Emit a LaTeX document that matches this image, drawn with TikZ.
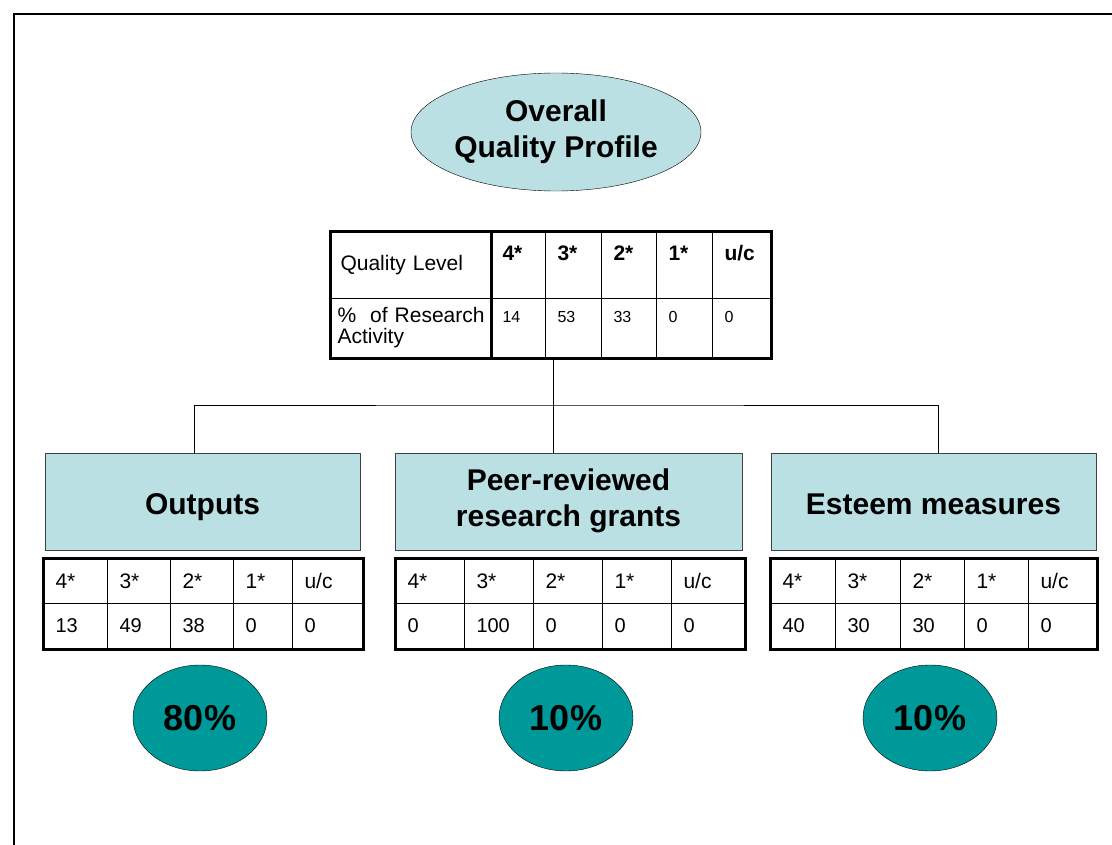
\documentclass[tikz,border=0pt]{standalone}
\usepackage{fontspec}
\setmainfont{Liberation Sans}
\usetikzlibrary{shapes.geometric}
\definecolor{paleblue}{HTML}{BBE0E3}
\definecolor{tealfill}{HTML}{009999}
\begin{document}
\begin{tikzpicture}[x=1pt, y=-1pt]
    % Define styles
    \tikzstyle{title} = [ellipse, draw, fill=paleblue, inner sep=0, minimum width=290, minimum height=118, align=center, font=\fontsize{30}{36}\selectfont\bfseries]
    \tikzstyle{part} = [rectangle, draw=black!75, fill=paleblue, minimum height=97, align=center, font=\fontsize{30}{36}\selectfont\bfseries, execute at begin node={\rule[-7pt]{0pt}{39pt}}]
    \tikzstyle{weight} = [ellipse, draw, fill=tealfill, minimum width=134, minimum height=106, font=\fontsize{36}{40}\selectfont\bfseries]
    \tikzstyle{frame} = [line width=3]
    \tikzset{
        cell/.style={rectangle, draw, line width=1, anchor=north west, minimum width=#1, text width=#1-24, inner xsep=12, inner ysep=0, minimum height=45, align=left, font=\fontsize{21}{24}\selectfont},
        num/.style={font=\fontsize{20}{23}\selectfont},
        head/.style={cell=#1, minimum height=66, font=\fontsize{21}{24}\selectfont\bfseries, text height=15, text depth=25},
        val/.style={cell=#1, minimum height=59, font=\fontsize{16}{19}\selectfont, text height=12, text depth=23}
    }
    \useasboundingbox (0,0) rectangle (1112,845);

    % Page frame
    \draw[line width=2] (1112,14) -- (14,14) -- (14,845);

    % Overall profile
    \node[title] (overall) at (556,132) {Overall\\Quality Profile};

    % Overall table
    \node[cell=160, minimum height=66, inner xsep=10, text width=140] (qlevel) at (330,232) {Quality Level};
    \node[head=55] (h4) at (490,232) {4*};
    \node[head=56] (h3) at (545,232) {3*};
    \node[head=55] (h2) at (601,232) {2*};
    \node[head=56] (h1) at (656,232) {1*};
    \node[head=58] (huc) at (712,232) {u/c};
    \node[cell=160, minimum height=59, inner xsep=7, text width=146, font=\fontsize{21}{21}\selectfont] (share) at (330,298) {\mbox{\%\ \ of Research}\\Activity};
    \node[val=55] (v4) at (490,298) {14};
    \node[val=56] (v3) at (545,298) {53};
    \node[val=55] (v2) at (601,298) {33};
    \node[val=56] (v1) at (656,298) {0};
    \node[val=58] (vuc) at (712,298) {0};
    \draw[frame] (qlevel.north west) rectangle (vuc.south east);
    \draw[frame] (qlevel.north east) -- (share.south east);

    % Sub-profiles
    \node[part, minimum width=315] (outputs) at (202.5,501.5) {Outputs};
    \node[part, minimum width=347] (grants) at (568.5,501.5) {Peer-reviewed\\research grants};
    \node[part, minimum width=325] (esteem) at (933.5,501.5) {Esteem measures};

    % Outputs table
    \node[cell=64] (o4) at (43,558) {4*};
    \node[cell=63] (o3) at (107,558) {3*};
    \node[cell=63] (o2) at (170,558) {2*};
    \node[cell=59] (o1) at (233,558) {1*};
    \node[cell=70] (ouc) at (292,558) {u/c};
    \node[cell=64, num] (o4v) at (43,603) {13};
    \node[cell=63, num] (o3v) at (107,603) {49};
    \node[cell=63, num] (o2v) at (170,603) {38};
    \node[cell=59, num] (o1v) at (233,603) {0};
    \node[cell=70, num] (oucv) at (292,603) {0};
    \draw[frame] (o4.north west) rectangle (oucv.south east);

    % Grants table
    \node[cell=69] (g4) at (395,558) {4*};
    \node[cell=69] (g3) at (464,558) {3*};
    \node[cell=69] (g2) at (533,558) {2*};
    \node[cell=69] (g1) at (602,558) {1*};
    \node[cell=73] (guc) at (671,558) {u/c};
    \node[cell=69, num] (g4v) at (395,603) {0};
    \node[cell=69, num] (g3v) at (464,603) {100};
    \node[cell=69, num] (g2v) at (533,603) {0};
    \node[cell=69, num] (g1v) at (602,603) {0};
    \node[cell=73, num] (gucv) at (671,603) {0};
    \draw[frame] (g4.north west) rectangle (gucv.south east);

    % Esteem table
    \node[cell=65] (e4) at (770,558) {4*};
    \node[cell=65] (e3) at (835,558) {3*};
    \node[cell=64] (e2) at (900,558) {2*};
    \node[cell=64] (e1) at (964,558) {1*};
    \node[cell=68] (euc) at (1028,558) {u/c};
    \node[cell=65, num] (e4v) at (770,603) {40};
    \node[cell=65, num] (e3v) at (835,603) {30};
    \node[cell=64, num] (e2v) at (900,603) {30};
    \node[cell=64, num] (e1v) at (964,603) {0};
    \node[cell=68, num] (eucv) at (1028,603) {0};
    \draw[frame] (e4.north west) rectangle (eucv.south east);

    % Weights
    \node[weight] (wout) at (200,718) {80\%};
    \node[weight] (wgrant) at (566,718) {10\%};
    \node[weight] (westeem) at (930,718) {10\%};

    % Tree lines
    \coordinate (split) at (553,405);
    \draw (split |- v3.south) -- (split);
    \draw ([xshift=-8.5]outputs.north) |- (split) -| ([xshift=4.5]esteem.north);
    \draw (split) -- (split |- grants.north);
\end{tikzpicture}
\end{document}
